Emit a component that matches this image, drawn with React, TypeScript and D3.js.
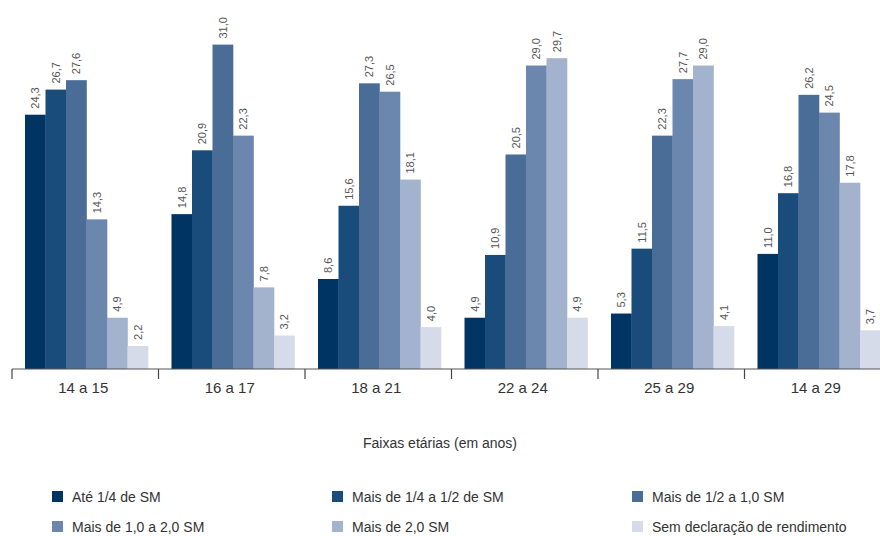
import React from "react";
import * as d3 from "d3";

const categories = ["14 a 15", "16 a 17", "18 a 21", "22 a 24", "25 a 29", "14 a 29"];
const seriesNames = [
  "Até 1/4 de SM",
  "Mais de 1/4 a 1/2 de SM",
  "Mais de 1/2 a 1,0 SM",
  "Mais de 1,0 a 2,0 SM",
  "Mais de 2,0 SM",
  "Sem declaração de rendimento",
];
const ate14 = [24.3, 14.8, 8.6, 4.9, 5.3, 11.0];
const de14a12 = [26.7, 20.9, 15.6, 10.9, 11.5, 16.8];
const de12a1 = [27.6, 31.0, 27.3, 20.5, 22.3, 26.2];
const de1a2 = [14.3, 22.3, 26.5, 29.0, 27.7, 24.5];
const mais2 = [4.9, 7.8, 18.1, 29.7, 29.0, 17.8];
const semDecl = [2.2, 3.2, 4.0, 4.9, 4.1, 3.7];
const seriesValues = [ate14, de14a12, de12a1, de1a2, mais2, semDecl];
const colors = ["#003463", "#1a4c7b", "#4a6d97", "#6b87ae", "#a3b2cd", "#d5dbe8"];
const xTitle = "Faixas etárias (em anos)";

const W = 880;
const H = 536;
const axisY = 369;

export default function App() {
  const x0 = d3.scaleBand<string>().domain(categories).range([12, 891]).paddingInner(0).paddingOuter(0);
  const x1 = d3
    .scaleBand<number>()
    .domain(d3.range(seriesNames.length))
    .range([13, 136])
    .padding(0);
  const y = d3.scaleLinear().domain([0, 31]).range([axisY, 44.6]);
  const fmt = (v: number) => v.toFixed(1).replace(".", ",");
  const font = "'Liberation Sans', Arial, sans-serif";

  const legendCols = [52, 332, 632];
  const legendRows = [497, 527];

  return (
    <svg
      width={W}
      height={H}
      style={{ position: "absolute", left: 0, top: 0, background: "#fff" }}
      fontFamily={font}
    >
      {categories.map((c, ci) => (
        <g key={c} transform={`translate(${x0(c)},0)`}>
          {seriesValues.map((vals, si) => {
            const v = vals[ci];
            const bx = x1(si)!;
            const bw = x1.bandwidth();
            const top = y(v);
            return (
              <g key={si}>
                <rect x={bx} y={top} width={bw + 0.3} height={axisY - top} fill={colors[si]} />
                <text
                  transform={`translate(${bx + bw / 2 + 4},${top - 6}) rotate(-90)`}
                  fontSize={11}
                  fill="#555"
                  textAnchor="start"
                >
                  {fmt(v)}
                </text>
              </g>
            );
          })}
        </g>
      ))}
      <line x1={12} x2={W} y1={axisY} y2={axisY} stroke="#555" strokeWidth={1.2} />
      {categories.map((c) => (
        <line key={c} x1={x0(c)!} x2={x0(c)!} y1={axisY} y2={axisY + 10} stroke="#444" strokeWidth={1.2} />
      ))}
      {categories.map((c) => (
        <text
          key={c}
          x={x0(c)! + x0.bandwidth() / 2 - 2}
          y={393}
          fontSize={15}
          fill="#333"
          textAnchor="middle"
        >
          {c}
        </text>
      ))}
      <text x={440} y={448} fontSize={14} fill="#333" textAnchor="middle">
        {xTitle}
      </text>
      {seriesNames.map((n, i) => {
        const col = i % 3;
        const row = Math.floor(i / 3);
        const lx = legendCols[col];
        const ly = legendRows[row];
        return (
          <g key={n}>
            <rect x={lx} y={ly - 6} width={11} height={11} fill={colors[i]} />
            <text x={lx + 20} y={ly + 5} fontSize={14} fill="#333">
              {n}
            </text>
          </g>
        );
      })}
    </svg>
  );
}
